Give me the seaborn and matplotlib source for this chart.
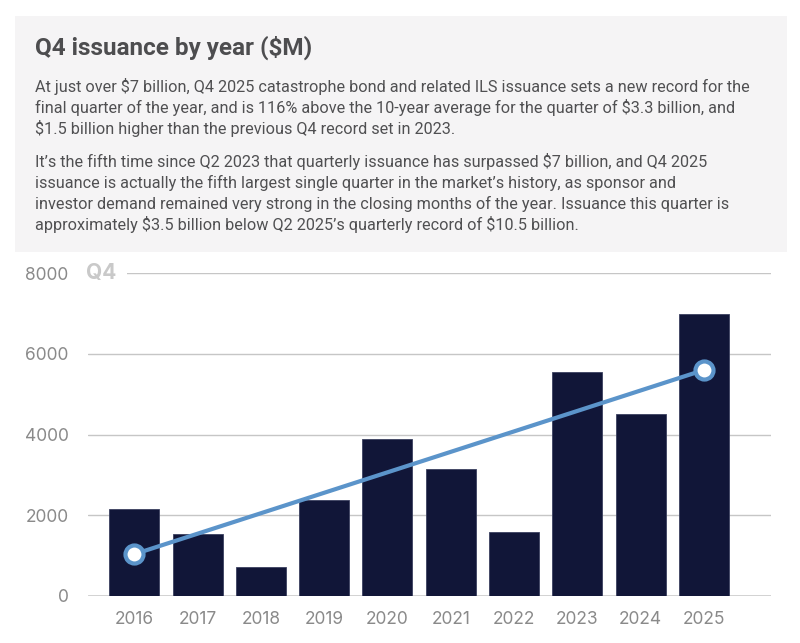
import matplotlib
matplotlib.use("Agg")
import matplotlib.pyplot as plt
import seaborn as sns
import pandas as pd
from matplotlib import font_manager
from matplotlib.patches import Rectangle

# Q4 cat bond / ILS issuance, $M
years = ["2016", "2017", "2018", "2019", "2020", "2021", "2022", "2023", "2024", "2025"]
issuance = [2140, 1520, 710, 2370, 3880, 3150, 1580, 5540, 4510, 6990]

# linear trend line, end points only
trend_years = ["2016", "2025"]
trend_values = [1030, 5600]

y_ticks = [0, 2000, 4000, 6000, 8000]

title = "Q4 issuance by year ($M)"
para_1 = [
    "At just over $7 billion, Q4 2025 catastrophe bond and related ILS issuance sets a new record for the",
    "final quarter of the year, and is 116% above the 10-year average for the quarter of $3.3 billion, and",
    "$1.5 billion higher than the previous Q4 record set in 2023.",
]
para_2 = [
    "It\u2019s the fifth time since Q2 2023 that quarterly issuance has surpassed $7 billion, and Q4 2025",
    "issuance is actually the fifth largest single quarter in the market\u2019s history, as sponsor and",
    "investor demand remained very strong in the closing months of the year. Issuance this quarter is",
    "approximately $3.5 billion below Q2 2025\u2019s quarterly record of $10.5 billion.",
]

sns.set_theme(style="white")
plt.rcParams["font.family"] = ["Inter", "DejaVu Sans"]

installed = {f.name for f in font_manager.fontManager.ttflist}
body_font = "Liberation Sans Narrow" if "Liberation Sans Narrow" in installed else "Roboto"

W, H = 800, 643


def px(x, y):
    return x / W, 1 - y / H


fig = plt.figure(figsize=(W / 100, H / 100), dpi=100)

# grey header panel
fig.patches.append(Rectangle(px(15, 252), (787 - 15) / W, (252 - 16) / H,
                             transform=fig.transFigure, facecolor="#f5f4f5",
                             edgecolor="none", zorder=0))

title_txt = fig.text(*px(35, 55), title, fontsize=16, fontweight="bold", color="#4d4d4f",
                     family=body_font, va="baseline", parse_math=False)

body_txt = []
baselines = [91.7, 113, 134.3]
for line, yb in zip(para_1, baselines):
    body_txt.append(fig.text(*px(35, yb), line, fontsize=12, color="#505052",
                             family=body_font, va="baseline", parse_math=False))
baselines = [166.7, 187.9, 209.2, 230.5]
for line, yb in zip(para_2, baselines):
    body_txt.append(fig.text(*px(35, yb), line, fontsize=12, color="#505052",
                             family=body_font, va="baseline", parse_math=False))

# scale the header text so its width matches the original layout
renderer = fig.canvas.get_renderer()
w = title_txt.get_window_extent(renderer).width
title_txt.set_fontsize(16 * 278 / w)
w = body_txt[0].get_window_extent(renderer).width
for t in body_txt:
    t.set_fontsize(12 * 713 / w)

ax = fig.add_axes([88 / W, 1 - 595.7 / H, (771 - 88) / W, (595.7 - 273.3) / H])

df = pd.DataFrame({"year": years, "issuance": issuance})
sns.barplot(data=df, x="year", y="issuance", color="#111638", saturation=1, width=0.79,
            edgecolor="#3b4060", linewidth=0.6, ax=ax, zorder=3)

pos = [years.index(y) for y in trend_years]
ax.plot(pos, trend_values, color="#5b94ca", lw=3, marker="o", ms=13,
        mfc="white", mec="#5b94ca", mew=3, zorder=5)

ax.set_xlim(-0.73, 10.06)
ax.set_ylim(0, 8000)
ax.set_yticks(y_ticks)
ax.yaxis.grid(True, color="#c6c6c6", lw=1)
ax.set_axisbelow(True)
ax.axhline(0, color="#d0d0d0", lw=2, zorder=2)
sns.despine(ax=ax, left=True, bottom=True)
ax.tick_params(axis="both", length=0, labelsize=12.5, labelcolor="#8a8a8a")
ax.tick_params(axis="y", pad=14)
ax.tick_params(axis="x", pad=11)
ax.set_xlabel("")
ax.set_ylabel("")

ax.text(-0.003, 8000, "Q4", transform=ax.get_yaxis_transform(), ha="left", va="center",
        fontsize=15, fontweight="bold", color="#c9c9c9", zorder=6, clip_on=False,
        bbox=dict(facecolor="white", edgecolor="none", boxstyle="square,pad=0.5"))

fig.savefig("out.png", dpi=100)
